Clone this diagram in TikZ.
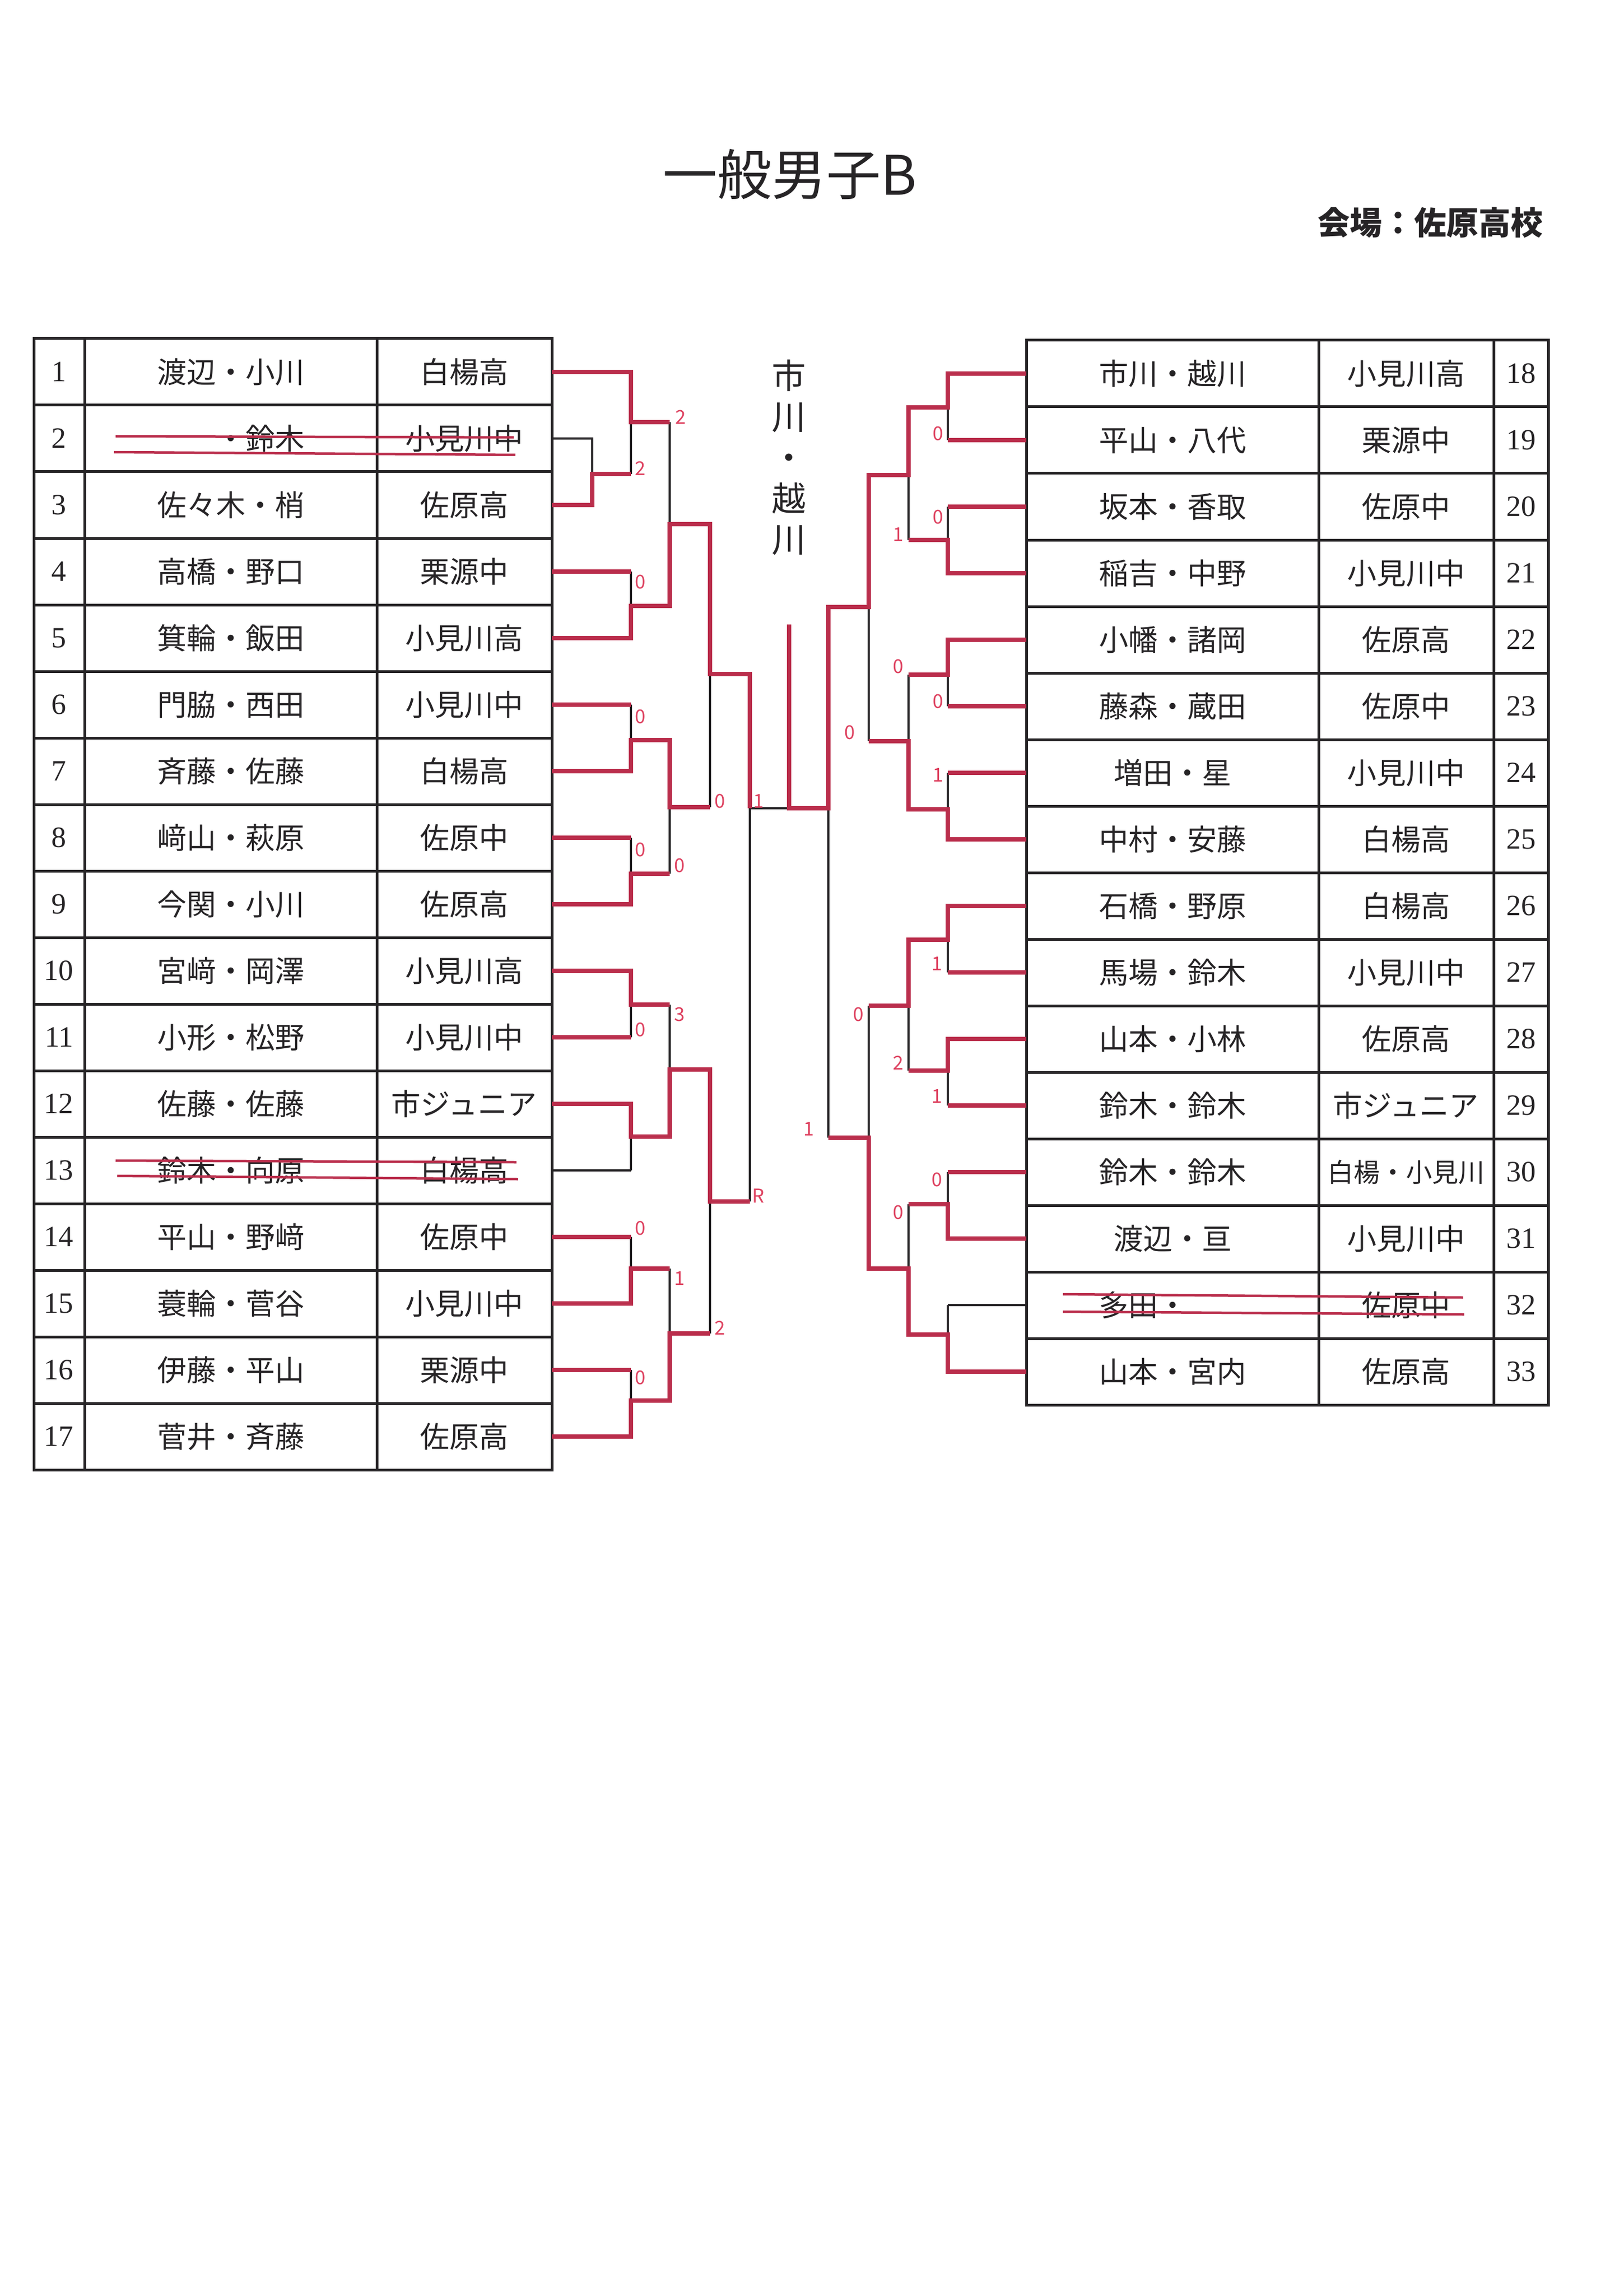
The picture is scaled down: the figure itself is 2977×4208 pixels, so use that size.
\documentclass[tikz,border=0pt]{standalone}
\usepackage{fontspec}
\setmainfont{Liberation Serif}
\newfontfamily\jpfont{Noto Sans CJK JP}
\definecolor{inkgray}{RGB}{38,36,38}
\definecolor{winred}{RGB}{186,46,76}
\definecolor{scorered}{RGB}{222,66,96}

\begin{document}
\begin{tikzpicture}[x=0.2pt,y=-0.2pt,
  frame/.style={draw=inkgray, line width=1pt},
  bline/.style={draw=inkgray, line width=0.72pt},
  rline/.style={draw=winred, line width=1.6pt, line join=miter},
  strike/.style={draw=winred, line width=0.9pt},
  cell/.style={font=\jpfont\fontsize{10.8pt}{13pt}\selectfont, text=inkgray, inner sep=0pt},
  numcell/.style={font=\fontsize{10.8pt}{13pt}\selectfont, text=inkgray, inner sep=0pt},
  score/.style={font=\jpfont\fontsize{7pt}{8pt}\selectfont, text=scorered, inner sep=0pt}]
% page size in pixels of the scan
\useasboundingbox (0,0) rectangle (2977,4208);
\fill[white] (0,0) rectangle (2977,4208);

% bracket columns, left and right
\def\Lz{1086} \def\La{1157} \def\Lb{1228} \def\Lc{1302} \def\Ld{1375}
\def\Cm{1447}
\def\Rd{1519} \def\Rc{1593} \def\Rb{1666} \def\Ra{1738}
\coordinate (lev0) at (\Lz,0);
\coordinate (lev1) at (\La,0);
\coordinate (rev1) at (\Ra,0);

% heading
\node[font=\jpfont\fontsize{20pt}{24pt}\selectfont, text=inkgray, inner sep=0pt] (title) at (1448,320) {一般男子B};
\node[font=\jpfont\bfseries\fontsize{11.8pt}{14pt}\selectfont, text=inkgray, anchor=east, inner sep=0pt] (venue) at (2830,408) {会場：佐原高校};

% left table
\draw[frame] (62,621) rectangle (1012,2695);
\foreach \i in {1,...,16} \draw[frame] (62,{621+\i*122}) -- (1012,{621+\i*122});
\draw[frame] (155,621) -- (155,2695);
\draw[frame] (691,621) -- (691,2695);
\foreach \p/\s [count=\i] in {渡辺・小川/白楊高, \hphantom{鈴木}・鈴木/小見川中, 佐々木・梢/佐原高,
  高橋・野口/栗源中, 箕輪・飯田/小見川高, 門脇・西田/小見川中, 斉藤・佐藤/白楊高,
  﨑山・萩原/佐原中, 今関・小川/佐原高, 宮﨑・岡澤/小見川高, 小形・松野/小見川中,
  佐藤・佐藤/市ジュニア, 鈴木・向原/白楊高, 平山・野﨑/佐原中, 蓑輪・菅谷/小見川中,
  伊藤・平山/栗源中, 菅井・斉藤/佐原高} {
  \pgfmathsetmacro\cy{621+(\i-0.5)*122}
  \node[numcell] (no\i) at (108,\cy) {\i};
  \node[cell] (pair\i) at (423,\cy) {\p};
  \node[cell] (club\i) at (851,\cy) {\s};
  \coordinate (tL\i) at (1012,\cy);
}

% right table
\draw[frame] (1882,624) rectangle (2839,2576);
\foreach \i in {1,...,15} \draw[frame] (1882,{624+\i*122}) -- (2839,{624+\i*122});
\draw[frame] (2418,624) -- (2418,2576);
\draw[frame] (2739,624) -- (2739,2576);
\foreach \p/\s [count=\k from 18] in {市川・越川/小見川高, 平山・八代/栗源中, 坂本・香取/佐原中,
  稲吉・中野/小見川中, 小幡・諸岡/佐原高, 藤森・蔵田/佐原中, 増田・星/小見川中,
  中村・安藤/白楊高, 石橋・野原/白楊高, 馬場・鈴木/小見川中, 山本・小林/佐原高,
  鈴木・鈴木/市ジュニア, 鈴木・鈴木/{\fontsize{9.6pt}{12pt}\selectfont 白楊・小見川},
  渡辺・亘/小見川中, 多田・\hphantom{多田}/佐原中, 山本・宮内/佐原高} {
  \pgfmathsetmacro\cy{624+(\k-17.5)*122}
  \node[numcell] (no\k) at (2789,\cy) {\k};
  \node[cell] (pair\k) at (2150,\cy) {\p};
  \node[cell] (club\k) at (2578,\cy) {\s};
  \coordinate (tR\k) at (1882,\cy);
}

% withdrawn entries struck out
\draw[strike] (212,800) -- (942,802) (209,829) -- (945,834);
\draw[strike] (212,2128) -- (947,2131) (215,2156) -- (950,2162);
\draw[strike] (1949,2373) -- (2683,2379) (1949,2405) -- (2685,2410);

% black bracket, left half
\draw[bline] (tL2) -| (\Lz,869) |- (tL3);
\draw[bline] (\Lz,869) -- (\La,869);
\foreach \i in {1,4,5,...,17} \draw[bline] (tL\i) -- (tL\i -| lev1);
\foreach \ya/\yb/\ym in {682/869/774, 1048/1170/1111, 1292/1414/1357, 1536/1658/1602,
  1780/1902/1842, 2024/2146/2084, 2268/2390/2326, 2512/2634/2568}
  \draw[bline] (\La,\ya) -- (\La,\yb) (\La,\ym) -- (\Lb,\ym);
\foreach \ya/\yb/\ym in {774/1111/961, 1357/1602/1480, 1842/2084/1961, 2326/2568/2445}
  \draw[bline] (\Lb,\ya) -- (\Lb,\yb) (\Lb,\ym) -- (\Lc,\ym);
\foreach \ya/\yb/\ym in {961/1480/1236, 1961/2445/2203}
  \draw[bline] (\Lc,\ya) -- (\Lc,\yb) (\Lc,\ym) -- (\Ld,\ym);
\draw[bline] (\Ld,1236) -- (\Ld,2203);
\draw[bline] (\Ld,1482) -- (\Rd,1482);

% black bracket, right half
\foreach \k in {18,...,33} \draw[bline] (tR\k) -- (tR\k -| rev1);
\foreach \ya/\yb/\ym in {685/807/747, 929/1051/990, 1173/1295/1237, 1417/1539/1484,
  1661/1783/1723, 1905/2027/1963, 2149/2271/2208, 2393/2515/2447}
  \draw[bline] (\Ra,\ya) -- (\Ra,\yb) (\Ra,\ym) -- (\Rb,\ym);
\foreach \ya/\yb/\ym in {747/990/871, 1237/1484/1359, 1723/1963/1844, 2208/2447/2326}
  \draw[bline] (\Rb,\ya) -- (\Rb,\yb) (\Rb,\ym) -- (\Rc,\ym);
\foreach \ya/\yb/\ym in {871/1359/1113, 1844/2326/2086}
  \draw[bline] (\Rc,\ya) -- (\Rc,\yb) (\Rc,\ym) -- (\Rd,\ym);
\draw[bline] (\Rd,1113) -- (\Rd,2086);

% results in red
\foreach \i in {4,6,8,11,14,16} \draw[rline] (tL\i) -- (tL\i -| lev1);
\draw[rline] (tL1) -| (\La,774) -- (\Lb,774);
\draw[rline] (tL3) -| (\Lz,869) -- (\La,869);
\draw[rline] (tL5) -| (\La,1111) -| (\Lb,961) -| (\Lc,1236) -| (\Ld,1482);
\draw[rline] (tL7) -| (\La,1357) -| (\Lb,1480) -- (\Lc,1480);
\draw[rline] (tL9) -| (\La,1602) -- (\Lb,1602);
\draw[rline] (tL10) -| (\La,1842) -- (\Lb,1842);
\draw[rline] (tL12) -| (\La,2084) -| (\Lb,1961) -| (\Lc,2203) -- (\Ld,2203);
\draw[rline] (tL15) -| (\La,2326) -- (\Lb,2326);
\draw[rline] (tL17) -| (\La,2568) -| (\Lb,2445) -- (\Lc,2445);

\foreach \k in {19,20,23,24,27,29,30} \draw[rline] (tR\k) -- (tR\k -| rev1);
\draw[rline] (tR18) -| (\Ra,747) -| (\Rb,871) -| (\Rc,1113) -| (\Rd,1482) -| (\Cm,1145);
\draw[rline] (tR21) -| (\Ra,990) -- (\Rb,990);
\draw[rline] (tR22) -| (\Ra,1237) -- (\Rb,1237);
\draw[rline] (tR25) -| (\Ra,1484) -| (\Rb,1359) -- (\Rc,1359);
\draw[rline] (tR26) -| (\Ra,1723) -| (\Rb,1844) -- (\Rc,1844);
\draw[rline] (tR28) -| (\Ra,1963) -- (\Rb,1963);
\draw[rline] (tR31) -| (\Ra,2208) -- (\Rb,2208);
\draw[rline] (tR33) -| (\Ra,2447) -| (\Rb,2326) -| (\Rc,2086) -- (\Rd,2086);

% winner written upright above the final
\node[font=\jpfont\fontsize{12.5pt}{15pt}\selectfont, text=inkgray, align=center, inner sep=0pt] (champ) at (\Cm,839) {市\\川\\・\\越\\川};

% scores
\foreach \sx/\sy/\sv [count=\n] in {1248/765/2, 1174/859/2, 1174/1067/0, 1174/1314/0,
  1320/1469/0, 1391/1469/1, 1174/1558/0, 1246/1587/0, 1246/1860/3, 1174/1888/0,
  1391/2193/R, 1174/2252/0, 1246/2344/1, 1320/2435/2, 1174/2526/0,
  1720/795/0, 1720/948/0, 1647/980/1, 1647/1222/0, 1720/1286/0, 1558/1343/0,
  1720/1421/1, 1718/1767/1, 1574/1860/0, 1647/1949/2, 1718/2010/1, 1483/2070/1,
  1718/2163/0, 1647/2223/0}
  \node[score] (sc\n) at (\sx,\sy) {\sv};
\end{tikzpicture}
\end{document}
